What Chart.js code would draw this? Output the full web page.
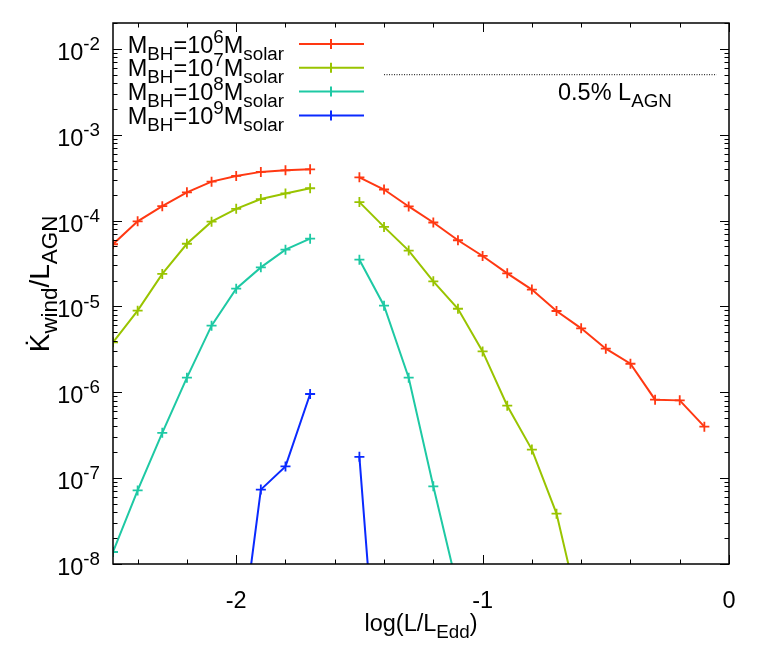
<!DOCTYPE html>
<html>
<head>
<meta charset="utf-8">
<script src="https://cdn.jsdelivr.net/npm/chart.js@4.4.1/dist/chart.umd.min.js"></script>
<style>
	html, body { margin: 0; padding: 0; background: #fff; }
</style>
</head>
<body>
<canvas id="wind-chart" width="759" height="664"></canvas>
<script>
// log(L/L_Edd) sample points (no runs at -1.6)
const logL = [-2.5, -2.4, -2.3, -2.2, -2.1, -2.0, -1.9, -1.8, -1.7, -1.6,
	-1.5, -1.4, -1.3, -1.2, -1.1, -1.0, -0.9, -0.8, -0.7, -0.6, -0.5, -0.4, -0.3, -0.2, -0.1]

// Kdot_wind / L_AGN
const mbh6 = [5.3e-5, 9.8e-5, 1.47e-4, 2.13e-4, 2.84e-4, 3.31e-4, 3.69e-4, 3.85e-4, 3.95e-4, null,
	3.19e-4, 2.30e-4, 1.46e-4, 9.5e-5, 5.9e-5, 3.87e-5, 2.43e-5, 1.57e-5, 8.85e-6, 5.56e-6, 3.22e-6, 2.15e-6, 8.2e-7, 8.05e-7, 3.98e-7]
const mbh7 = [3.82e-6, 8.93e-6, 2.39e-5, 5.37e-5, 9.7e-5, 1.37e-4, 1.78e-4, 2.07e-4, 2.38e-4, null,
	1.64e-4, 8.44e-5, 4.47e-5, 1.96e-5, 9.4e-6, 2.99e-6, 6.98e-7, 2.15e-7, 3.86e-8, 2.3e-9, null, null, null, null, null]
const mbh8 = [1.38e-8, 7.2e-8, 3.37e-7, 1.48e-6, 5.97e-6, 1.61e-5, 2.85e-5, 4.58e-5, 6.15e-5, null,
	3.5e-5, 1.02e-5, 1.48e-6, 8.03e-8, 5e-9, null, null, null, null, null, null, null, null, null, null]
const mbh9 = [null, null, null, null, null, 4.5e-10, 7.35e-8, 1.37e-7, 9.55e-7, null,
	1.77e-7, 3.5e-11, null, null, null, null, null, null, null, null, null, null, null, null, null]

// 0.5% L_AGN reference line
const refX = [-1.4, -0.05]
const refLevel = 0.005

const seriesNames = ['6', '7', '8', '9']
const seriesColors = ['#ff3812', '#99c400', '#1ec9a4', '#0a2aff']
const seriesValues = [mbh6, mbh7, mbh8, mbh9]

const xTicks = [-2, -1, 0]
const yDecades = [-8, -7, -6, -5, -4, -3, -2]

const FONT = '"Liberation Sans", Arial, Helvetica, sans-serif'
const FS = 23.5

function toPoints(values) {
	return values.map((v, i) => ({ x: logL[i], y: v }))
}

// draw gnuplot style enhanced text: parts are [text, mode], mode 0 normal, 1 sub, 2 super
function richText(ctx, parts, x, y, align, size) {
	size = size || FS
	const small = size * 0.8
	let w = 0
	for (const [t, m] of parts) {
		ctx.font = (m ? small : size) + 'px ' + FONT
		w += ctx.measureText(t).width
	}
	let cx = x
	if (align === 'right') cx = x - w
	if (align === 'center') cx = x - w / 2
	ctx.textAlign = 'left'
	ctx.textBaseline = 'alphabetic'
	for (const [t, m] of parts) {
		ctx.font = (m ? small : size) + 'px ' + FONT
		let dy = 0
		if (m === 1) dy = size * 0.3
		if (m === 2) dy = -size * 0.42
		ctx.fillText(t, cx, y + dy)
		cx += ctx.measureText(t).width
	}
}

const gnuplotLook = {
	id: 'gnuplotLook',
	afterDatasetsDraw(chart) {
		const { ctx, chartArea: a, scales: { x, y } } = chart
		ctx.save()
		ctx.strokeStyle = '#000'
		ctx.lineWidth = 1

		// ticks, mirrored on all four sides
		ctx.beginPath()
		for (let v = -2.4; v < 0.01; v += 0.2) {
			const major = Math.abs(v - Math.round(v)) < 1e-6
			const len = major ? 9 : 4.5
			const px = Math.round(x.getPixelForValue(v)) + 0.5
			ctx.moveTo(px, a.bottom); ctx.lineTo(px, a.bottom - len)
			ctx.moveTo(px, a.top); ctx.lineTo(px, a.top + len)
		}
		for (const d of yDecades) {
			for (let k = 1; k <= 9; k++) {
				const val = k * Math.pow(10, d)
				if (val > y.max * 1.0001) break
				const len = k === 1 ? 9 : 4.5
				const py = Math.round(y.getPixelForValue(val)) + 0.5
				ctx.moveTo(a.left, py); ctx.lineTo(a.left + len, py)
				ctx.moveTo(a.right, py); ctx.lineTo(a.right - len, py)
			}
		}
		ctx.stroke()

		// border
		ctx.lineWidth = 1.5
		ctx.strokeRect(a.left, a.top, a.right - a.left, a.bottom - a.top)

		ctx.fillStyle = '#000'
		// x tick labels
		for (const v of xTicks) {
			richText(ctx, [[String(v), 0]], x.getPixelForValue(v), a.bottom + 44, 'center')
		}
		// y tick labels
		for (const d of yDecades) {
			richText(ctx, [['10', 0], [String(d), 2]], a.left - 13, y.getPixelForValue(Math.pow(10, d)) + 11, 'right')
		}
		// axis titles
		richText(ctx, [['log(L/L', 0], ['Edd', 1], [')', 0]], (a.left + a.right) / 2, 631, 'center')
		ctx.save()
		ctx.translate(49, 284)
		ctx.rotate(-Math.PI / 2)
		richText(ctx, [['K\u0307', 0], ['wind', 1], ['/L', 0], ['AGN', 1]], 0, 0, 'center', 28)
		ctx.restore()

		// key
		seriesNames.forEach((n, i) => {
			const ly = 44 + i * 23.8
			richText(ctx, [['M', 0], ['BH', 1], ['=10', 0], [n, 2], ['M', 0], ['solar', 1]], 284, ly + 8.5, 'right')
			ctx.strokeStyle = seriesColors[i]
			ctx.lineWidth = 2
			ctx.beginPath()
			ctx.moveTo(299, ly); ctx.lineTo(364, ly)
			ctx.moveTo(331, ly - 5); ctx.lineTo(331, ly + 5)
			ctx.stroke()
		})

		// 0.5% label
		richText(ctx, [['0.5% L', 0], ['AGN', 1]], 558, 100, 'left')
		ctx.restore()
	}
}

const datasets = seriesValues.map((vals, i) => ({
	label: 'M_BH=10^' + seriesNames[i] + ' M_solar',
	data: toPoints(vals),
	borderColor: seriesColors[i],
	backgroundColor: seriesColors[i],
	borderWidth: 2,
	pointStyle: 'cross',
	pointRadius: 5,
	pointBorderWidth: 1.8,
	pointHoverRadius: 5,
	spanGaps: false,
	tension: 0,
	clip: 0
}))

datasets.push({
	label: '0.5% L_AGN',
	data: refX.map(v => ({ x: v, y: refLevel })),
	borderColor: '#000',
	borderWidth: 1,
	borderDash: [1, 1.5],
	pointRadius: 0,
	clip: 0
})

new Chart(document.getElementById('wind-chart'), {
	type: 'line',
	data: { datasets: datasets },
	options: {
		responsive: false,
		animation: false,
		events: [],
		layout: { padding: { left: 113, top: 23, right: 30, bottom: 100 } },
		plugins: { legend: { display: false }, tooltip: { enabled: false } },
		scales: {
			x: { type: 'linear', min: -2.5, max: 0, display: false },
			y: { type: 'logarithmic', min: 1e-8, max: 0.02, display: false }
		}
	},
	plugins: [gnuplotLook]
})
</script>
</body>
</html>
